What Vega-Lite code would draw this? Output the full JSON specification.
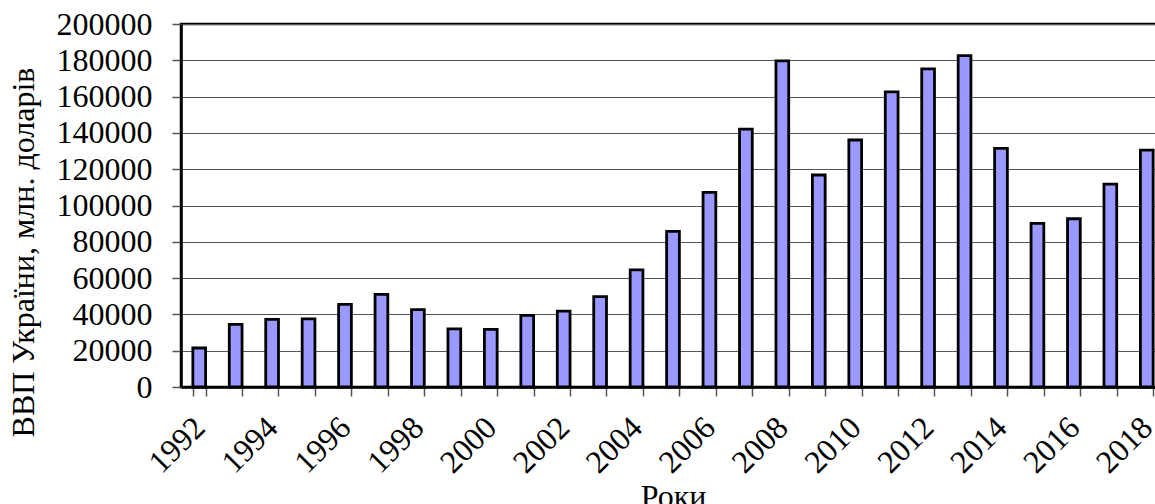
{
  "$schema": "https://vega.github.io/schema/vega-lite/v6.json",
  "autosize": {"type": "none"},
  "padding": {"left": 181, "top": 24, "right": 0, "bottom": 117},
  "width": 984,
  "height": 363,
  "background": "white",
  "config": {
    "font": "Liberation Serif",
    "view": {"stroke": "black", "strokeWidth": 2.5}
  },
  "data": {
    "values": [
      {"year": 1992, "gdp": 21500},
      {"year": 1993, "gdp": 34500},
      {"year": 1994, "gdp": 37300},
      {"year": 1995, "gdp": 37500},
      {"year": 1996, "gdp": 45500},
      {"year": 1997, "gdp": 51000},
      {"year": 1998, "gdp": 42600},
      {"year": 1999, "gdp": 32000},
      {"year": 2000, "gdp": 31700},
      {"year": 2001, "gdp": 39500},
      {"year": 2002, "gdp": 41800},
      {"year": 2003, "gdp": 49800},
      {"year": 2004, "gdp": 64500},
      {"year": 2005, "gdp": 85700},
      {"year": 2006, "gdp": 107200},
      {"year": 2007, "gdp": 142100},
      {"year": 2008, "gdp": 179700},
      {"year": 2009, "gdp": 116800},
      {"year": 2010, "gdp": 136100},
      {"year": 2011, "gdp": 162600},
      {"year": 2012, "gdp": 175300},
      {"year": 2013, "gdp": 182600},
      {"year": 2014, "gdp": 131500},
      {"year": 2015, "gdp": 90100},
      {"year": 2016, "gdp": 92700},
      {"year": 2017, "gdp": 111800},
      {"year": 2018, "gdp": 130500}
    ]
  },
  "mark": {"type": "bar", "fill": "#9999FF", "stroke": "black", "strokeWidth": 2.8},
  "encoding": {
    "x": {
      "field": "year",
      "type": "ordinal",
      "scale": {"paddingInner": 0.65, "paddingOuter": 0.325},
      "axis": {
        "title": "Роки",
        "titleFont": "Liberation Serif",
        "titleFontSize": 32,
        "titleFontWeight": "normal",
        "titleColor": "black",
        "titleY": 119,
        "titleBaseline": "alphabetic",
        "labelFont": "Liberation Serif",
        "labelFontSize": 32,
        "labelColor": "black",
        "labelAngle": -45,
        "labelAlign": "right",
        "labelBaseline": "middle",
        "labelPadding": 26,
        "labelExpr": "datum.value % 2 == 0 ? datum.label : ''",
        "labelOverlap": false,
        "tickBand": "extent",
        "tickSize": 9,
        "tickColor": "#555555",
        "tickWidth": 1.5,
        "domainColor": "black",
        "domainWidth": 2.5,
        "grid": false
      }
    },
    "y": {
      "field": "gdp",
      "type": "quantitative",
      "scale": {"domain": [0, 200000], "nice": false},
      "axis": {
        "title": "ВВП України, млн. доларів",
        "titleFont": "Liberation Serif",
        "titleFontSize": 32,
        "titleFontWeight": "normal",
        "titleColor": "black",
        "titleAngle": -90,
        "titleAlign": "center",
        "titleBaseline": "alphabetic",
        "titleX": -148,
        "titleY": 228,
        "values": [0, 20000, 40000, 60000, 80000, 100000, 120000, 140000, 160000, 180000, 200000],
        "format": "d",
        "labelFont": "Liberation Serif",
        "labelFontSize": 32,
        "labelColor": "black",
        "labelPadding": 20,
        "tickSize": 9,
        "tickColor": "#555555",
        "tickWidth": 1.5,
        "domainColor": "black",
        "domainWidth": 2.5,
        "grid": true,
        "gridColor": "#555555",
        "gridWidth": 1.2
      }
    }
  }
}
